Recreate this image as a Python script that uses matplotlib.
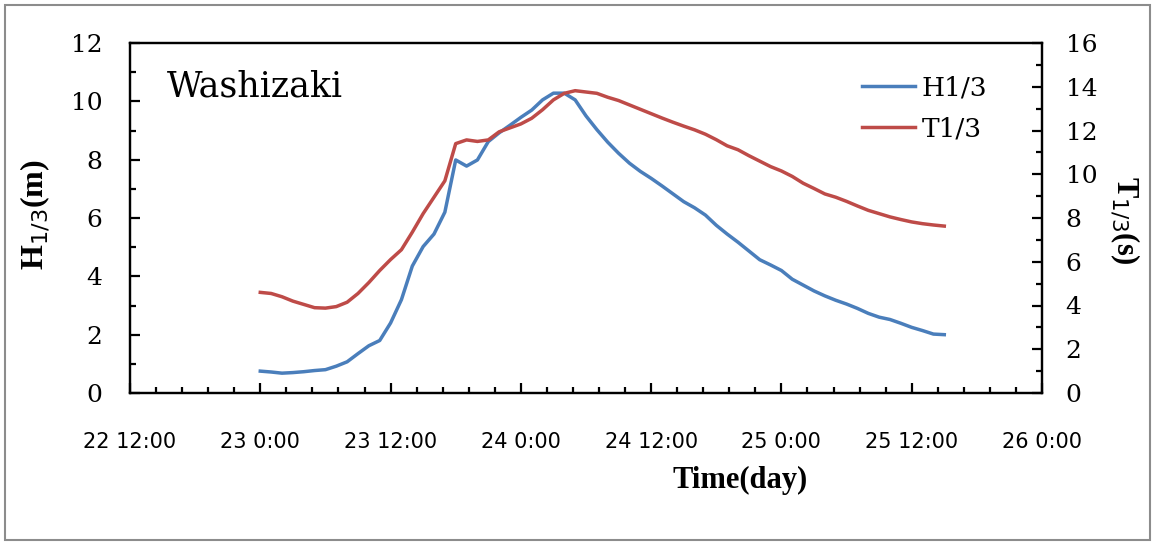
import matplotlib
matplotlib.use("Agg")
import matplotlib.pyplot as plt
from matplotlib.ticker import MultipleLocator, FixedLocator
from matplotlib.patches import Rectangle

# Hourly record, time counted in hours from 22 12:00
hours = list(range(12, 76))

h13 = [0.75, 0.72, 0.68, 0.70, 0.73, 0.77, 0.80, 0.92, 1.07, 1.35,
       1.62, 1.80, 2.40, 3.20, 4.35, 5.02, 5.45, 6.20, 7.99, 7.78,
       7.99, 8.62, 8.92, 9.18, 9.45, 9.70, 10.05, 10.28, 10.28, 10.05,
       9.50, 9.03, 8.60, 8.22, 7.88, 7.60, 7.36, 7.10, 6.83, 6.56,
       6.35, 6.10, 5.75, 5.45, 5.17, 4.87, 4.57, 4.39, 4.20, 3.90,
       3.70, 3.50, 3.33, 3.18, 3.05, 2.90, 2.73, 2.60, 2.52, 2.39,
       2.25, 2.14, 2.02, 2.00]

t13 = [4.60, 4.55, 4.40, 4.20, 4.05, 3.90, 3.88, 3.95, 4.15, 4.55,
       5.05, 5.60, 6.10, 6.55, 7.35, 8.20, 8.95, 9.70, 11.40, 11.57,
       11.50, 11.57, 11.94, 12.12, 12.30, 12.56, 12.95, 13.40, 13.70, 13.82,
       13.76, 13.70, 13.52, 13.37, 13.17, 12.97, 12.77, 12.57, 12.38, 12.20,
       12.03, 11.83, 11.58, 11.30, 11.12, 10.85, 10.60, 10.35, 10.15, 9.90,
       9.59, 9.35, 9.10, 8.95, 8.76, 8.55, 8.35, 8.20, 8.05, 7.93,
       7.82, 7.74, 7.68, 7.63]

tick_hours = [0, 12, 24, 36, 48, 60, 72, 84]
tick_labels = ["22 12:00", "23 0:00", "23 12:00", "24 0:00",
               "24 12:00", "25 0:00", "25 12:00", "26 0:00"]

serif = ["DejaVu Serif"]
narrow = ["Liberation Sans Narrow", "DejaVu Sans"]

blue = "#4a7ebb"
red = "#be4b48"

fig = plt.figure(figsize=(11.56, 5.42), dpi=100)
fig.patches.append(Rectangle((5 / 1156, 2 / 542), 1145 / 1156, 535 / 542,
                             transform=fig.transFigure, fill=False,
                             edgecolor="#8c8c8c", linewidth=1.5))

ax = fig.add_axes([130 / 1156, 1 - 393 / 542, 912 / 1156, 350 / 542])
ax2 = ax.twinx()

lh, = ax.plot(hours, h13, color=blue, lw=2.5, label="H1/3")
lt, = ax2.plot(hours, t13, color=red, lw=2.5, label="T1/3")

ax.set_xlim(0, 84)
ax.set_ylim(0, 12)
ax2.set_ylim(0, 16)

ax.xaxis.set_major_locator(FixedLocator(tick_hours))
ax.set_xticklabels(tick_labels, fontfamily=narrow, fontsize=15)
ax.xaxis.set_minor_locator(MultipleLocator(2.4))
ax.yaxis.set_major_locator(MultipleLocator(2))
ax.yaxis.set_minor_locator(MultipleLocator(1))
ax2.yaxis.set_major_locator(MultipleLocator(2))
ax2.yaxis.set_minor_locator(MultipleLocator(1))

for a in (ax, ax2):
    for s in a.spines.values():
        s.set_linewidth(1.6)
    a.tick_params(which="major", direction="in", length=7, width=1.6)
    a.tick_params(which="minor", direction="in", length=4, width=1.6)

ax.tick_params(axis="x", which="major", pad=28)
ax.tick_params(axis="y", which="both", pad=20, labelsize=18)
ax2.tick_params(axis="y", which="both", pad=17, labelsize=18)
for lab in ax.get_yticklabels() + ax2.get_yticklabels():
    lab.set_fontfamily(serif)
ax.tick_params(axis="x", which="minor", labelbottom=False)

ax.text(0.04, 0.875, "Washizaki", transform=ax.transAxes,
        fontfamily=serif, fontsize=25, va="center", ha="left")

fig.text(740 / 1156, 1 - 480 / 542, "Time(day)", fontfamily=["Liberation Serif"],
         fontweight="bold", fontsize=22, ha="center", va="center")
fig.text(35 / 1156, 1 - 215 / 542, r"H$_{1/3}$(m)", fontfamily=["Liberation Serif"],
         fontweight="bold", fontsize=23, rotation=90, ha="center", va="center")
fig.text(1125 / 1156, 1 - 220 / 542, r"T$_{1/3}$(s)", fontfamily=["Liberation Serif"],
         fontweight="bold", fontsize=22, rotation=-90, ha="center", va="center")

ax2.legend(handles=[lh, lt], loc="upper right",
           bbox_to_anchor=((1008 - 130) / 912, 1 - 11 / 350),
           frameon=False, prop={"family": serif, "size": 19},
           handlelength=2.0, handletextpad=0.25, labelspacing=0.62,
           borderaxespad=0.4)

fig.savefig("out.png", dpi=100)
